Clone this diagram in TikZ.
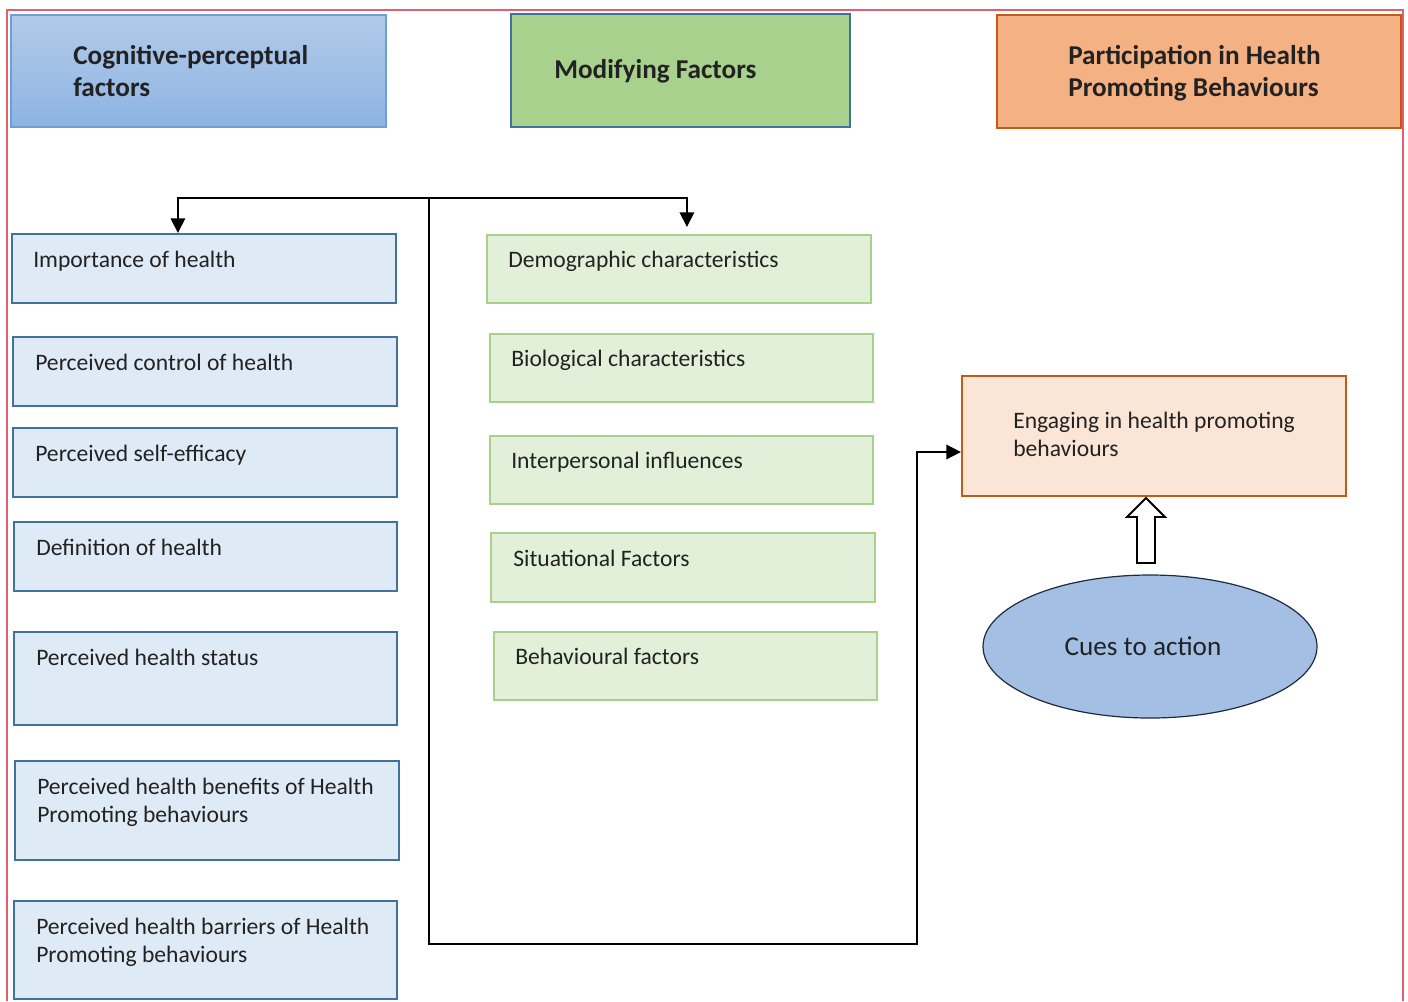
\documentclass[tikz,border=0pt]{standalone}
\usepackage{fontspec}
\setmainfont{Carlito}
\usetikzlibrary{arrows.meta,fit,calc,shapes.geometric}
\definecolor{lfill}{HTML}{DEEBF7}
\definecolor{lborder}{HTML}{41719C}
\definecolor{gfill}{HTML}{E2F0D9}
\definecolor{gborder}{HTML}{A9D18E}
\definecolor{hgreen}{HTML}{A9D18E}
\definecolor{horange}{HTML}{F4B183}
\definecolor{oborder}{HTML}{C55A11}
\definecolor{efill}{HTML}{FBE5D6}
\definecolor{hbluetop}{HTML}{B1CBE9}
\definecolor{hbluebot}{HTML}{8EB4E3}
\definecolor{hblueborder}{HTML}{6C9FD5}
\definecolor{cuefill}{HTML}{A3BFE4}
\definecolor{cueborder}{HTML}{1F2A3C}
\definecolor{framec}{HTML}{E0606F}
\definecolor{textc}{HTML}{222222}
\tikzset{
  lbox/.style={draw=lborder, fill=lfill, line width=1.6pt, inner sep=0pt},
  gbox/.style={draw=gborder, fill=gfill, line width=1.6pt, inner sep=0pt},
  txt/.style={font=\fontsize{17.7}{21}\selectfont, text=textc, inner sep=0pt, anchor=north west, align=left, yshift=14.7pt},
  htxt/.style={font=\fontsize{20.4}{24}\selectfont\bfseries, text=textc, inner sep=0pt, anchor=north west, align=left, yshift=16.8pt},
  arr/.style={draw=black, line width=1.1pt, -{Triangle[length=11pt,width=11pt]}},
}
\begin{document}
\begin{tikzpicture}[x=0.75pt,y=-0.75pt]
\useasboundingbox (0,0) rectangle (1408,1001);
\fill[white] (0,0) rectangle (1408,1001);
% outer frame
\draw[framec, line width=1pt] (7,1001) -- (7,10) -- (1403,10) -- (1403,1001);

% headers
\node[draw=hblueborder, line width=0.9pt, top color=hbluetop, bottom color=hbluebot, inner sep=0pt, fit={(11,15) (386,127)}] (h1) {};
\node[draw=lborder, fill=hgreen, line width=1.6pt, inner sep=0pt, fit={(511,14) (850,127)}] (h2) {};
\node[draw=oborder, fill=horange, line width=1.6pt, inner sep=0pt, fit={(997,15) (1401,128)}] (h3) {};
\node[htxt] (h1t) at (73,64) {\strut Cognitive-perceptual\\factors};
\node[htxt] (h2t) at (554,78) {\strut Modifying Factors};
\node[htxt] (h3t) at (1068,64) {\strut Participation in Health\\Promoting Behaviours};

% left column
\node[lbox, fit={(12,234) (396,303)}] (l1) {};
\node[lbox, fit={(13,337) (397,406)}] (l2) {};
\node[lbox, fit={(13,428) (397,497)}] (l3) {};
\node[lbox, fit={(14,522) (397,591)}] (l4) {};
\node[lbox, fit={(14,632) (397,725)}] (l5) {};
\node[lbox, fit={(15,761) (399,860)}] (l6) {};
\node[lbox, fit={(14,901) (397,999)}] (l7) {};
\node[txt] (l1t) at (33,267) {\strut Importance of health};
\node[txt] (l2t) at (35,370) {\strut Perceived control of health};
\node[txt] (l3t) at (35,461) {\strut Perceived self-efficacy};
\node[txt] (l4t) at (36,555) {\strut Definition of health};
\node[txt] (l5t) at (36,665) {\strut Perceived health status};
\node[txt] (l6t) at (37,794) {\strut Perceived health benefits of Health\\Promoting behaviours};
\node[txt] (l7t) at (36,934) {\strut Perceived health barriers of Health\\Promoting behaviours};

% middle column
\node[gbox, fit={(487,235) (871,303)}] (g1) {};
\node[gbox, fit={(490,334) (873,402)}] (g2) {};
\node[gbox, fit={(490,436) (873,504)}] (g3) {};
\node[gbox, fit={(491,533) (875,602)}] (g4) {};
\node[gbox, fit={(494,632) (877,700)}] (g5) {};
\node[txt] (g1t) at (508,267) {\strut Demographic characteristics};
\node[txt] (g2t) at (511,366) {\strut Biological characteristics};
\node[txt] (g3t) at (511,468) {\strut Interpersonal influences};
\node[txt] (g4t) at (513,566) {\strut Situational Factors};
\node[txt] (g5t) at (515,664) {\strut Behavioural factors};

% right column
\node[draw=oborder, fill=efill, line width=1.6pt, inner sep=0pt, fit={(962,376) (1346,496)}] (e) {};
\node[txt] (et) at (1013,428) {\strut Engaging in health promoting\\behaviours};
\node[ellipse, draw=cueborder, fill=cuefill, line width=0.9pt, minimum width=334*0.75pt, minimum height=143*0.75pt, inner sep=0pt] (cue) at (1150,646.5) {};
\node[font=\fontsize{20.4}{24}\selectfont, text=textc, inner sep=0pt] (cuet) at (1143,646) {Cues to action};

% hollow block arrow
\draw[black, line width=1.4pt, fill=white, line join=miter]
  (1137,563) -- (1137,517) -- (1127,517) -- (1146,498) -- (1165,517) -- (1155,517) -- (1155,563) -- cycle;

% connectors
\coordinate (j) at (429,198);
\coordinate (c1) at (917,944);
\draw[arr] (j) -| ($(l1.north west)+(167,0)$);
\draw[arr] (j) -| ($(g1.north west)+(201,-7)$);
\draw[arr] (j) |- (c1) |- ($(e.west)+(0,16)$);
\end{tikzpicture}
\end{document}
